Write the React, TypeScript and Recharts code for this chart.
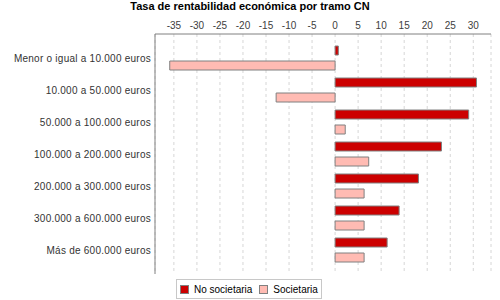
import React from "react";
import { BarChart, Bar, XAxis, YAxis, CartesianGrid } from "recharts";

const tramos = [
  "Menor o igual a 10.000 euros",
  "10.000 a 50.000 euros",
  "50.000 a 100.000 euros",
  "100.000 a 200.000 euros",
  "200.000 a 300.000 euros",
  "300.000 a 600.000 euros",
  "Más de 600.000 euros",
];
const noSocietaria = [0.7, 30.7, 29.0, 23.1, 18.1, 13.9, 11.3];
const societaria = [-35.9, -12.8, 2.2, 7.3, 6.3, 6.3, 6.3];
const xTicks = [-35, -30, -25, -20, -15, -10, -5, 0, 5, 10, 15, 20, 25, 30];

const RED = "#cc0000";
const PINK = "#ffbbb3";
const FONT = "'Liberation Sans', Arial, sans-serif";

const data = tramos.map((name, i) => ({
  name,
  ns: noSocietaria[i],
  s: societaria[i],
}));

// plain svg text so the long labels don't get wrapped
const CategoryTick = ({ x, y, payload }: any) => (
  <text
    x={x}
    y={y}
    textAnchor="end"
    dominantBaseline="central"
    fill="#333"
    fontSize={10}
    fontFamily={FONT}
    letterSpacing={0.25}
  >
    {payload.value}
  </text>
);

function LegendBox() {
  const sw = (color: string) => (
    <span
      style={{
        display: "inline-block",
        width: 7,
        height: 7,
        background: color,
        border: "1px solid #808080",
        marginRight: 5,
      }}
    />
  );
  return (
    <div
      style={{
        position: "absolute",
        left: 176,
        top: 279,
        width: 144,
        height: 18,
        border: "1px solid #c8c8c8",
        display: "flex",
        alignItems: "center",
        fontFamily: FONT,
        fontSize: 10,
        color: "#000",
        boxSizing: "content-box",
      }}
    >
      <span style={{ display: "flex", alignItems: "center", marginLeft: 3 }}>
        {sw(RED)}
        No societaria
      </span>
      <span style={{ display: "flex", alignItems: "center", marginLeft: 7 }}>
        {sw(PINK)}
        Societaria
      </span>
    </div>
  );
}

export default function App() {
  return (
    <div style={{ position: "absolute", left: 0, top: 0, width: 500, height: 300, background: "#fff" }}>
      <div
        style={{
          position: "absolute",
          left: 0,
          top: 0,
          width: 500,
          textAlign: "center",
          fontFamily: FONT,
          fontWeight: "bold",
          fontSize: 11,
          lineHeight: "13px",
          color: "#000",
        }}
      >
        Tasa de rentabilidad económica por tramo CN
      </div>
      <BarChart
        width={500}
        height={300}
        data={data}
        layout="vertical"
        margin={{ top: 14, right: 9, bottom: 26, left: 0 }}
        barSize={9}
        barGap={6}
      >
        <CartesianGrid horizontal={false} strokeDasharray="3 3" stroke="#d6d6d6" />
        <XAxis
          type="number"
          orientation="top"
          height={20}
          domain={[-39.1, 33.85]}
          ticks={xTicks}
          interval={0}
          tickLine={false}
          tickSize={0}
          axisLine={{ stroke: "#808080" }}
          tick={{ fill: "#404040", fontSize: 10, fontFamily: FONT }}
          tickMargin={5}
        />
        <YAxis
          type="category"
          dataKey="name"
          width={155}
          tickLine={false}
          tickSize={0}
          axisLine={{ stroke: "#808080" }}
          padding={{ top: 8, bottom: 8 }}
          interval={0}
          tick={<CategoryTick />}
          tickMargin={4}
        />
        <Bar dataKey="ns" name="No societaria" fill={RED} stroke="#808080" strokeWidth={1} isAnimationActive={false} />
        <Bar dataKey="s" name="Societaria" fill={PINK} stroke="#808080" strokeWidth={1} isAnimationActive={false} />
      </BarChart>
      <LegendBox />
    </div>
  );
}
